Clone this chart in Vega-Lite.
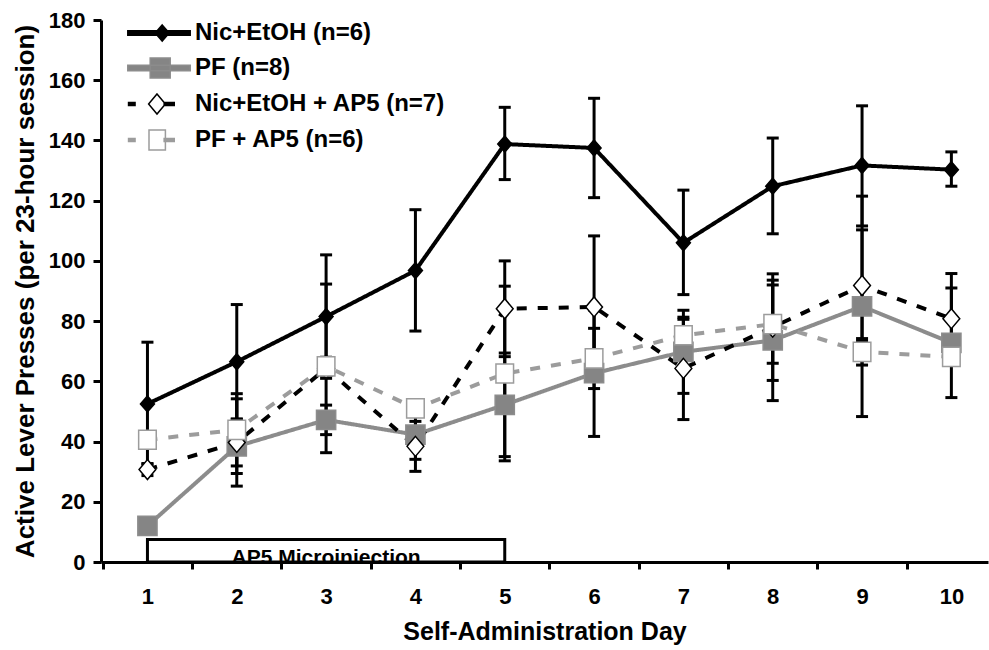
{
  "$schema": "https://vega.github.io/schema/vega-lite/v6.json",
  "width": 887,
  "height": 542,
  "autosize": {"type": "none"},
  "padding": {"left": 101, "top": 20, "right": 1, "bottom": 88},
  "background": "white",
  "config": {"view": {"stroke": null}, "font": "Liberation Sans"},
  "datasets": {
    "series": [
      {"group": "Nic+EtOH (n=6)", "day": 1, "mean": 52.5, "lo": 32.5, "hi": 73},
      {"group": "Nic+EtOH (n=6)", "day": 2, "mean": 66.5, "lo": 47.5, "hi": 85.5},
      {"group": "Nic+EtOH (n=6)", "day": 3, "mean": 81.5, "lo": 61, "hi": 102},
      {"group": "Nic+EtOH (n=6)", "day": 4, "mean": 96.8, "lo": 76.7, "hi": 117},
      {"group": "Nic+EtOH (n=6)", "day": 5, "mean": 138.8, "lo": 127, "hi": 151},
      {"group": "Nic+EtOH (n=6)", "day": 6, "mean": 137.5, "lo": 121, "hi": 154},
      {"group": "Nic+EtOH (n=6)", "day": 7, "mean": 106, "lo": 88.8, "hi": 123.5},
      {"group": "Nic+EtOH (n=6)", "day": 8, "mean": 124.8, "lo": 109, "hi": 140.8},
      {"group": "Nic+EtOH (n=6)", "day": 9, "mean": 131.7, "lo": 111.6, "hi": 151.5},
      {"group": "Nic+EtOH (n=6)", "day": 10, "mean": 130.3, "lo": 124.8, "hi": 136.2},
      {"group": "PF (n=8)", "day": 1, "mean": 12, "lo": 10, "hi": 14},
      {"group": "PF (n=8)", "day": 2, "mean": 38.4, "lo": 29.4, "hi": 47.4},
      {"group": "PF (n=8)", "day": 3, "mean": 47.2, "lo": 42.3, "hi": 52.1},
      {"group": "PF (n=8)", "day": 4, "mean": 42.3, "lo": 34.1, "hi": 50.5},
      {"group": "PF (n=8)", "day": 5, "mean": 52.2, "lo": 35, "hi": 69.4},
      {"group": "PF (n=8)", "day": 6, "mean": 62.7, "lo": 41.7, "hi": 83.7},
      {"group": "PF (n=8)", "day": 7, "mean": 69.8, "lo": 56, "hi": 83.6},
      {"group": "PF (n=8)", "day": 8, "mean": 73.6, "lo": 53.6, "hi": 93.6},
      {"group": "PF (n=8)", "day": 9, "mean": 84.9, "lo": 48.3, "hi": 121.5},
      {"group": "PF (n=8)", "day": 10, "mean": 72.8, "lo": 54.6, "hi": 91},
      {"group": "Nic+EtOH + AP5 (n=7)", "day": 1, "mean": 30.7, "lo": 28.7, "hi": 32.7},
      {"group": "Nic+EtOH + AP5 (n=7)", "day": 2, "mean": 39.7, "lo": 25.2, "hi": 54.2},
      {"group": "Nic+EtOH + AP5 (n=7)", "day": 3, "mean": 64.3, "lo": 36.3, "hi": 92.3},
      {"group": "Nic+EtOH + AP5 (n=7)", "day": 4, "mean": 38.4, "lo": 30.1, "hi": 46.7},
      {"group": "Nic+EtOH + AP5 (n=7)", "day": 5, "mean": 84.1, "lo": 68.2, "hi": 100},
      {"group": "Nic+EtOH + AP5 (n=7)", "day": 6, "mean": 84.7, "lo": 61.1, "hi": 108.3},
      {"group": "Nic+EtOH + AP5 (n=7)", "day": 7, "mean": 64.3, "lo": 47.3, "hi": 81.3},
      {"group": "Nic+EtOH + AP5 (n=7)", "day": 8, "mean": 78, "lo": 60.3, "hi": 95.7},
      {"group": "Nic+EtOH + AP5 (n=7)", "day": 9, "mean": 91.8, "lo": 73.3, "hi": 110.3},
      {"group": "Nic+EtOH + AP5 (n=7)", "day": 10, "mean": 80.8, "lo": 65.8, "hi": 95.8},
      {"group": "PF + AP5 (n=6)", "day": 1, "mean": 40.6, "lo": 39, "hi": 42.2},
      {"group": "PF + AP5 (n=6)", "day": 2, "mean": 43.9, "lo": 31.9, "hi": 55.9},
      {"group": "PF + AP5 (n=6)", "day": 3, "mean": 65, "lo": 62, "hi": 68},
      {"group": "PF + AP5 (n=6)", "day": 4, "mean": 51, "lo": 49, "hi": 53},
      {"group": "PF + AP5 (n=6)", "day": 5, "mean": 62.6, "lo": 33.6, "hi": 91.6},
      {"group": "PF + AP5 (n=6)", "day": 6, "mean": 67.6, "lo": 57.6, "hi": 77.6},
      {"group": "PF + AP5 (n=6)", "day": 7, "mean": 75.3, "lo": 70, "hi": 80.6},
      {"group": "PF + AP5 (n=6)", "day": 8, "mean": 79, "lo": 66, "hi": 92},
      {"group": "PF + AP5 (n=6)", "day": 9, "mean": 69.8, "lo": 65.4, "hi": 74.2},
      {"group": "PF + AP5 (n=6)", "day": 10, "mean": 68.1, "lo": 66, "hi": 70.2}
    ],
    "annot": [{"label": "AP5 Microinjection", "startDay": 1, "endDay": 5}]
  },
  "layer": [
    {
      "data": {"name": "annot"},
      "mark": {"type": "rect", "fill": "white", "stroke": "black", "strokeWidth": 3},
      "encoding": {
        "x": {
          "field": "startDay", "type": "quantitative",
          "scale": {"domain": [0.48, 10.41], "nice": false, "zero": false},
          "axis": {
            "title": "Self-Administration Day",
            "values": [0.5, 1, 1.5, 2, 2.5, 3, 3.5, 4, 4.5, 5, 5.5, 6, 6.5, 7, 7.5, 8, 8.5, 9, 9.5, 10],
            "labelExpr": "datum.value % 1 === 0 ? format(datum.value, 'd') : ''",
            "tickOpacity": {"condition": {"test": "datum.value % 1 !== 0", "value": 1}, "value": 0},
            "labelOverlap": false, "labelFlush": false, "grid": false,
            "domainColor": "black", "domainWidth": 3, "tickColor": "black", "tickWidth": 3, "tickSize": 7,
            "labelFont": "Liberation Sans", "labelFontSize": 22, "labelFontWeight": "bold", "labelColor": "black", "labelPadding": 17,
            "titleFont": "Liberation Sans", "titleFontSize": 25, "titleFontWeight": "bold", "titleColor": "black", "titlePadding": 12,
            "zindex": 1
          }
        },
        "x2": {"field": "endDay"},
        "y": {
          "datum": 0, "type": "quantitative",
          "scale": {"domain": [0, 180], "nice": false},
          "axis": {
            "title": "Active Lever Presses (per 23-hour session)",
            "values": [0, 20, 40, 60, 80, 100, 120, 140, 160, 180],
            "grid": false,
            "domainColor": "black", "domainWidth": 3, "tickColor": "black", "tickWidth": 3, "tickSize": 8,
            "labelFont": "Liberation Sans", "labelFontSize": 22, "labelFontWeight": "bold", "labelColor": "black", "labelPadding": 8,
            "titleFont": "Liberation Sans", "titleFontSize": 26, "titleFontWeight": "bold", "titleColor": "black", "titlePadding": 10,
            "zindex": 1
          }
        },
        "y2": {"datum": 7.5}
      }
    },
    {
      "data": {"name": "annot"},
      "mark": {"type": "text", "font": "Liberation Sans", "fontSize": 21, "fontWeight": "bold", "color": "black", "baseline": "alphabetic", "align": "center", "dy": 2, "clip": true},
      "encoding": {
        "x": {"datum": 3, "type": "quantitative"},
        "y": {"datum": 0, "type": "quantitative"},
        "text": {"field": "label"}
      }
    },
    {
      "data": {"name": "series"},
      "mark": {"type": "line", "strokeWidth": 4},
      "encoding": {
        "x": {"field": "day", "type": "quantitative"},
        "y": {"field": "mean", "type": "quantitative"},
        "stroke": {
          "field": "group", "type": "nominal",
          "scale": {"domain": ["Nic+EtOH (n=6)", "PF (n=8)", "Nic+EtOH + AP5 (n=7)", "PF + AP5 (n=6)"], "range": ["#000000", "#8c8c8c", "#000000", "#9c9c9c"]}
        },
        "strokeDash": {
          "field": "group", "type": "nominal", "legend": null,
          "scale": {"domain": ["PF + AP5 (n=6)", "Nic+EtOH + AP5 (n=7)", "PF (n=8)", "Nic+EtOH (n=6)"], "range": [[10, 11], [10, 11], [1, 0], [1, 0]]}
        }
      }
    },
    {
      "data": {"name": "series"},
      "mark": {"type": "rule", "color": "black", "strokeWidth": 3},
      "encoding": {
        "x": {"field": "day", "type": "quantitative"},
        "y": {"field": "lo", "type": "quantitative"},
        "y2": {"field": "hi"}
      }
    },
    {
      "data": {"name": "series"},
      "mark": {"type": "tick", "orient": "horizontal", "color": "black", "size": 12, "thickness": 3, "opacity": 1},
      "encoding": {
        "x": {"field": "day", "type": "quantitative"},
        "y": {"field": "lo", "type": "quantitative"}
      }
    },
    {
      "data": {"name": "series"},
      "mark": {"type": "tick", "orient": "horizontal", "color": "black", "size": 12, "thickness": 3, "opacity": 1},
      "encoding": {
        "x": {"field": "day", "type": "quantitative"},
        "y": {"field": "hi", "type": "quantitative"}
      }
    },
    {
      "data": {"name": "series"},
      "mark": {"type": "point", "size": 256, "strokeWidth": 1.5, "opacity": 1},
      "encoding": {
        "x": {"field": "day", "type": "quantitative"},
        "y": {"field": "mean", "type": "quantitative"},
        "shape": {
          "field": "group", "type": "nominal", "legend": null,
          "scale": {"domain": ["PF + AP5 (n=6)", "Nic+EtOH + AP5 (n=7)", "PF (n=8)", "Nic+EtOH (n=6)"], "range": ["M-1.1,-1.2H1.1V1.2H-1.1Z", "M0,-1.25L1.05,0L0,1.25L-1.05,0Z", "M-1.2,-1.2H1.2V1.2H-1.2Z", "M0,-1L0.875,0L0,1L-0.875,0Z"]}
        },
        "fill": {
          "field": "group", "type": "nominal",
          "scale": {"domain": ["Nic+EtOH (n=6)", "PF (n=8)", "Nic+EtOH + AP5 (n=7)", "PF + AP5 (n=6)"], "range": ["#000000", "#858585", "#ffffff", "#ffffff"]},
          "legend": {
            "title": null, "orient": "none", "legendX": 46, "legendY": 1, "padding": 0,
            "symbolSize": 256, "symbolStrokeWidth": 1.5, "labelOffset": 24, "symbolOffset": 0, "rowPadding": 10, "labelLimit": 0,
            "labelFont": "Liberation Sans", "labelFontSize": 24, "labelFontWeight": "bold", "labelColor": "black",
            "symbolType": {"expr": "datum.value === 'Nic+EtOH (n=6)' ? 'M-3.9,-0.28H3.9V0.28H-3.9Z M0.4,-1L1.275,0L0.4,1L-0.475,0Z' : datum.value === 'PF (n=8)' ? 'M-3.9,-0.35H3.9V0.35H-3.9Z M-1.1,-1.25H1.4V1.25H-1.1Z' : datum.value === 'Nic+EtOH + AP5 (n=7)' ? 'M-3.9,-0.2H-2.9M-3.9,0H-2.9M-3.9,0.2H-2.9M-0.25,-1.25L0.8,0L-0.25,1.25L-1.3,0ZM0.55,-0.2H2M0.55,0H2M0.55,0.2H2' : 'M-3.9,-0.2H-2.9M-3.9,0H-2.9M-3.9,0.2H-2.9M-1.25,-1.25H0.8V1.25H-1.25ZM0.55,-0.2H2M0.55,0H2M0.55,0.2H2'"}
          }
        },
        "stroke": {"field": "group", "type": "nominal"}
      }
    }
  ]
}
